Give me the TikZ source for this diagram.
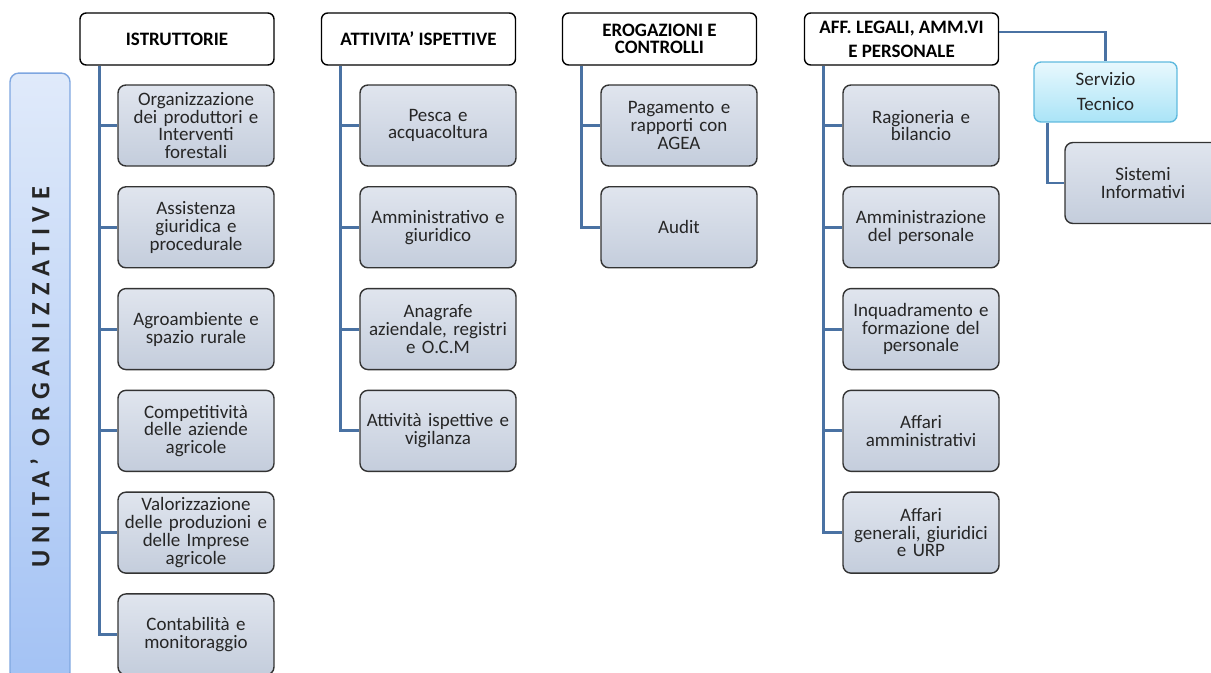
\documentclass[tikz,border=0pt]{standalone}
\usepackage{fontspec}
\setmainfont{Carlito}
\usepackage{tikz}
\usetikzlibrary{positioning,calc}
\definecolor{trunkblue}{RGB}{74,114,163}
\definecolor{unittop}{RGB}{224,229,238}
\definecolor{unitbot}{RGB}{196,205,220}
\definecolor{sidetop}{RGB}{224,234,250}
\definecolor{sidebot}{RGB}{163,194,244}
\definecolor{sideline}{RGB}{126,166,224}
\definecolor{sertop}{RGB}{232,248,253}
\definecolor{serbot}{RGB}{170,228,247}
\definecolor{serline}{RGB}{96,186,222}
\tikzset{
  head/.style={draw=black, fill=white, rounded corners=3.5pt, line width=0.8pt,
    minimum width=3.88cm, minimum height=1.04cm, inner sep=1pt, align=center,
    font=\bfseries\fontsize{10.8}{10}\selectfont},
  unit/.style={draw=black!80, top color=unittop, bottom color=unitbot,
    rounded corners=4.5pt, line width=0.8pt, minimum width=3.12cm,
    minimum height=1.62cm, inner sep=1pt, text width=3.05cm, align=center,
    font=\fontsize{10.8}{10.1}\selectfont, text=black!85},
  trunk/.style={draw=trunkblue, line width=1.7pt}
}
\begin{document}
\begin{tikzpicture}[x=0.02cm, y=-0.02cm, node distance=0.388cm]
    \useasboundingbox (0,0) rectangle (1211,673);
    \clip (0,0) rectangle (1211,673);
    % side label
    \node [draw=sideline, line width=0.8pt, rounded corners=5pt, rotate=90,
      top color=sidetop, bottom color=sidebot, minimum width=12.16cm,
      minimum height=1.2cm, text=black!85,
      font=\bfseries\fontsize{15}{15}\selectfont\addfontfeature{LetterSpace=26}]
      (uo) at (40,377) {UNITA’ ORGANIZZATIVE};
    % heads
    \node [head] (ist) at (177,39) {ISTRUTTORIE};
    \node [head] (att) at (418.5,39) {ATTIVITA’ ISPETTIVE};
    \node [head] (ero) at (659.5,39) {EROGAZIONI E\\CONTROLLI};
    \node [head] (aff) at (901.5,39) {AFF. LEGALI, AMM.VI\\[3.6pt]E PERSONALE};
    % istruttorie
    \node [unit] (i1) at (196,125.5) {Organizzazione\\dei produttori e\\Interventi\\forestali};
    \node [unit, below=of i1] (i2) {Assistenza\\giuridica e\\procedurale};
    \node [unit, below=of i2] (i3) {Agroambiente e\\spazio rurale};
    \node [unit, below=of i3] (i4) {Competitività\\delle aziende\\agricole};
    \node [unit, below=of i4] (i5) {Valorizzazione\\delle produzioni e\\delle Imprese\\agricole};
    \node [unit, below=of i5] (i6) {Contabilità e\\monitoraggio};
    % attivita ispettive
    \node [unit] (a1) at (438,125.5) {Pesca e\\acquacoltura};
    \node [unit, below=of a1] (a2) {Amministrativo e\\giuridico};
    \node [unit, below=of a2] (a3) {Anagrafe\\aziendale, registri\\e O.C.M};
    \node [unit, below=of a3] (a4) {Attività ispettive e\\vigilanza};
    % erogazioni
    \node [unit] (e1) at (679,125.5) {Pagamento e\\rapporti con\\AGEA};
    \node [unit, below=of e1] (e2) {Audit};
    % affari legali
    \node [unit] (p1) at (921,125.5) {Ragioneria e\\bilancio};
    \node [unit, below=of p1] (p2) {Amministrazione\\del personale};
    \node [unit, below=of p2] (p3) {Inquadramento e\\formazione del\\personale};
    \node [unit, below=of p3] (p4) {Affari\\amministrativi};
    \node [unit, below=of p4] (p5) {Affari\\generali, giuridici\\e URP};
    % servizio tecnico
    \node [draw=serline, line width=0.8pt, rounded corners=4pt, top color=sertop,
      bottom color=serbot, minimum width=2.86cm, minimum height=1.2cm,
      align=center, font=\fontsize{10.8}{10}\selectfont, text=black!85]
      (st) at (1105.5,92) {Servizio\\[4.2pt]Tecnico};
    \node [unit] (si) at (1143,183) {Sistemi\\Informativi};
    % connectors
    \draw [trunk] ([xshift=0.4cm]ist.south west) coordinate (ti)
      |- (i1.west) (ti) |- (i2.west) (ti) |- (i3.west)
      (ti) |- (i4.west) (ti) |- (i5.west) (ti) |- (i6.west);
    \draw [trunk] ([xshift=0.4cm]att.south west) coordinate (ta)
      |- (a1.west) (ta) |- (a2.west) (ta) |- (a3.west) (ta) |- (a4.west);
    \draw [trunk] ([xshift=0.4cm]ero.south west) coordinate (te)
      |- (e1.west) (te) |- (e2.west);
    \draw [trunk] ([xshift=0.4cm]aff.south west) coordinate (tp)
      |- (p1.west) (tp) |- (p2.west) (tp) |- (p3.west)
      (tp) |- (p4.west) (tp) |- (p5.west);
    \draw [trunk] ([yshift=0.14cm]aff.east) -| (st.north);
    \draw [trunk] ([xshift=0.28cm]st.south west) |- (si.west);
  \end{tikzpicture}
\end{document}
